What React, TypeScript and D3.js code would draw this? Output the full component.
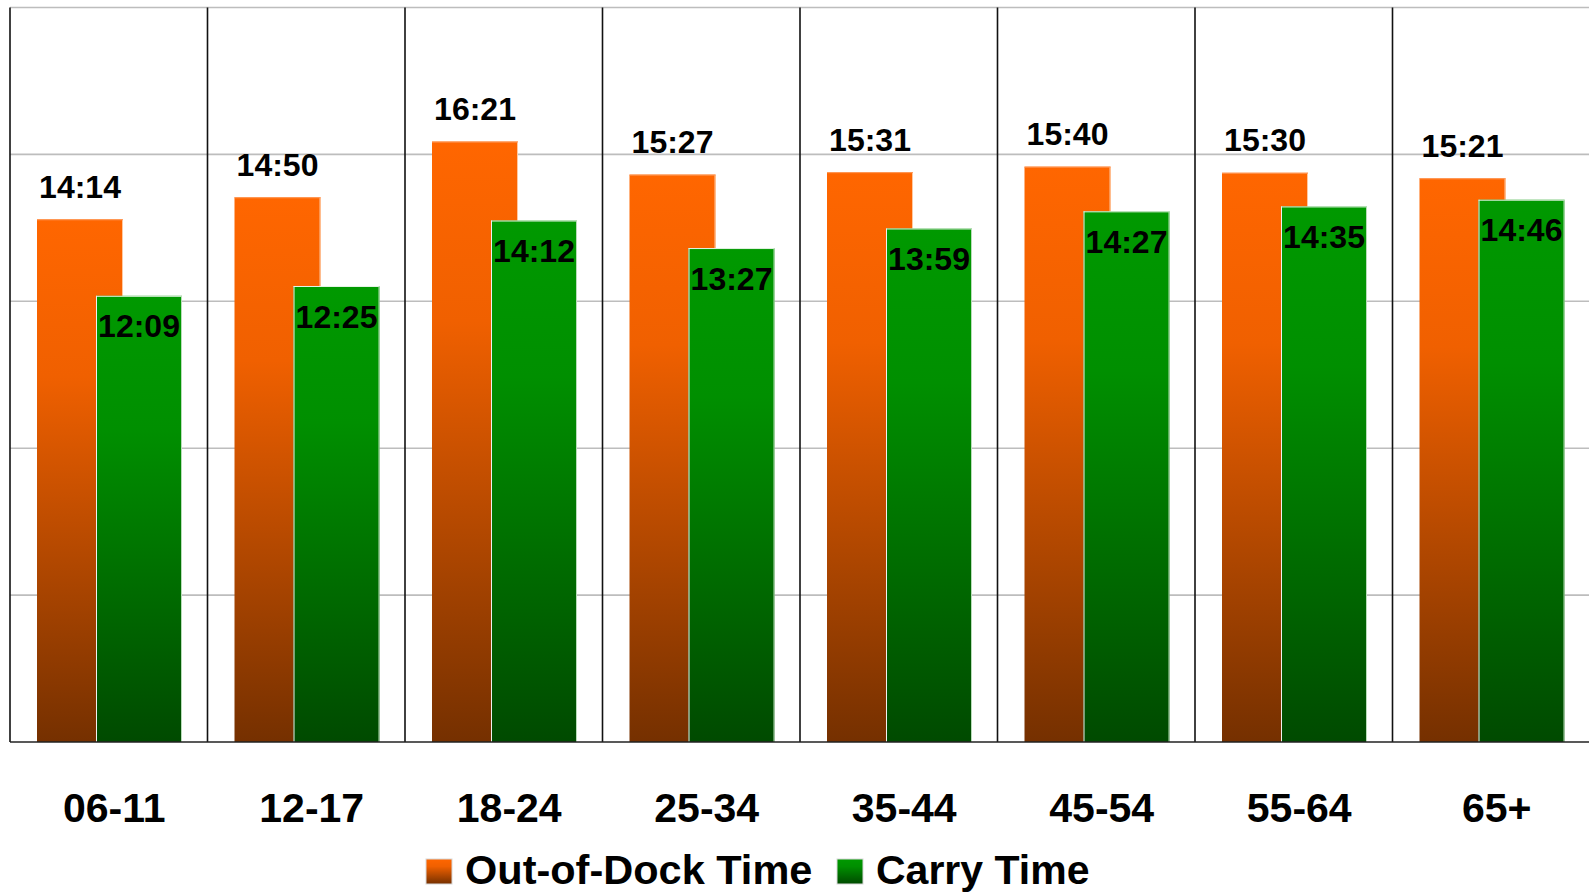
import React from "react";
import * as d3 from "d3";

const categories = ["06-11", "12-17", "18-24", "25-34", "35-44", "45-54", "55-64", "65+"];
const outOfDock = ["14:14", "14:50", "16:21", "15:27", "15:31", "15:40", "15:30", "15:21"];
const carry = ["12:09", "12:25", "14:12", "13:27", "13:59", "14:27", "14:35", "14:46"];
const yTicks = [0, 240, 480, 720, 960, 1200];
const seriesNames = ["Out-of-Dock Time", "Carry Time"];

const toSec = (s: string) => {
  const [m, sec] = s.split(":").map(Number);
  return m * 60 + sec;
};

const W = 1589;
const H = 895;
const FONT = "'Liberation Sans', Arial, sans-serif";

export default function App() {
  const x = d3.scaleBand<string>().domain(categories).range([10, 1590]).paddingInner(0).paddingOuter(0);
  const y = d3.scaleLinear().domain([0, 1200]).range([742, 7.5]);
  const bw = 86;
  const oOff = 27;
  const gOff = 86;

  return (
    <svg width={W} height={H} style={{ position: "absolute", left: 0, top: 0, background: "#fff" }}>
      <defs>
        <linearGradient id="gOrange" x1="0" y1="0" x2="0" y2="1">
          <stop offset="0%" stopColor="#FF6600" />
          <stop offset="30%" stopColor="#F06000" />
          <stop offset="100%" stopColor="#753000" />
        </linearGradient>
        <linearGradient id="gGreen" x1="0" y1="0" x2="0" y2="1">
          <stop offset="0%" stopColor="#009900" />
          <stop offset="30%" stopColor="#008F00" />
          <stop offset="100%" stopColor="#004A00" />
        </linearGradient>
      </defs>
      {yTicks.slice(1).map((t) => (
        <line key={t} x1={10} x2={W} y1={y(t)} y2={y(t)} stroke="#bdbdbd" strokeWidth={1.6} />
      ))}
      {categories.map((c) => (
        <line key={c} x1={x(c)!} x2={x(c)!} y1={y(1200)} y2={y(0)} stroke="#111" strokeWidth={1.6} />
      ))}
      {categories.map((c, i) => {
        const x0 = x(c)!;
        const vo = toSec(outOfDock[i]);
        const vg = toSec(carry[i]);
        return (
          <g key={c}>
            <rect x={x0 + oOff} y={y(vo)} width={bw} height={y(0) - y(vo)} fill="url(#gOrange)" />
            <line x1={x0 + oOff + bw - 0.5} x2={x0 + oOff + bw - 0.5} y1={y(vo)} y2={y(0)} stroke="#ffc8a0" strokeWidth={1} />
            <line x1={x0 + oOff} x2={x0 + oOff + bw} y1={y(vo) + 0.5} y2={y(vo) + 0.5} stroke="#ff9a5a" strokeWidth={1} />
            <rect x={x0 + gOff} y={y(vg)} width={bw} height={y(0) - y(vg)} fill="url(#gGreen)" />
            <line x1={x0 + gOff + 0.5} x2={x0 + gOff + 0.5} y1={y(vg)} y2={y(0)} stroke="#f0f0f0" strokeWidth={1} />
            <line x1={x0 + gOff} x2={x0 + gOff + bw} y1={y(vg) + 0.5} y2={y(vg) + 0.5} stroke="#e8f5e8" strokeWidth={1} />
            <line x1={x0 + gOff + bw - 0.5} x2={x0 + gOff + bw - 0.5} y1={y(vg)} y2={y(0)} stroke="#b8dcb8" strokeWidth={1} />
            <text x={x0 + oOff + bw / 2} y={y(vo) - 21.5} textAnchor="middle" fontFamily={FONT} fontWeight="bold" fontSize={32} fill="#000">
              {outOfDock[i]}
            </text>
            <text x={x0 + gOff + bw / 2} y={y(vg) + 41.6} textAnchor="middle" fontFamily={FONT} fontWeight="bold" fontSize={32} fill="#000">
              {carry[i]}
            </text>
            <text x={x0 + x.bandwidth() / 2 + 5.5} y={822} textAnchor="middle" fontFamily={FONT} fontWeight="bold" fontSize={41} fill="#000">
              {c}
            </text>
          </g>
        );
      })}
      <line x1={10} x2={W} y1={y(0)} y2={y(0)} stroke="#222" strokeWidth={1.6} />
      <g>
        <rect x={426} y={859} width={26} height={25} fill="url(#gOrange)" stroke="#d8d8d8" strokeWidth={1} />
        <text x={465} y={884} fontFamily={FONT} fontWeight="bold" fontSize={41.5} fill="#000">{seriesNames[0]}</text>
        <rect x={837} y={859} width={26} height={25} fill="url(#gGreen)" stroke="#d8d8d8" strokeWidth={1} />
        <text x={876} y={884} fontFamily={FONT} fontWeight="bold" fontSize={41} fill="#000">{seriesNames[1]}</text>
      </g>
    </svg>
  );
}
